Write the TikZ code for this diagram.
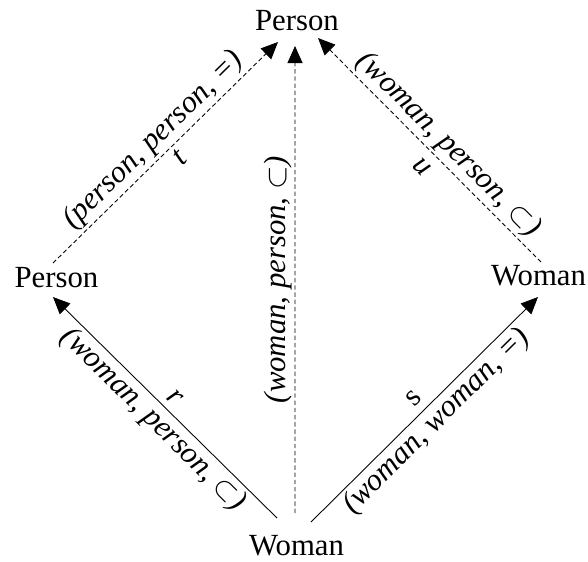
\documentclass[tikz,border=0pt]{standalone}
\usepackage{fontspec}
\setmainfont{Liberation Serif}
\usetikzlibrary{positioning,arrows.meta,calc}

\begin{document}
\begin{tikzpicture}[
    concept/.style={inner sep=0pt, anchor=base, font=\fontsize{17.5}{21}\selectfont},
    arrow/.style={-{Triangle[length=0.34cm,width=0.3cm]}, line width=0.5pt},
    dasharrow/.style={arrow, dash pattern=on 2.5pt off 1.6pt},
    edgetext/.style={sloped, inner sep=1.5pt, font=\fontsize{17.5}{21}\selectfont\itshape}
]
\useasboundingbox (0,0) rectangle (11.76,-11.22);

% Concepts
\node[concept] (ptop) at (5.94,-0.60) {Person};
\node[concept] (pleft) at (1.13,-5.74) {Person};
\node[concept] (wright) at (10.77,-5.70) {Woman};
\node[concept] (wbot) at (5.93,-11.10) {Woman};

% Solid arrows
\draw[arrow] ($(wbot.base)+(-0.39,0.74)$) -- ($(pleft.base)+(-0.07,-0.20)$)
    node[edgetext, midway, below] {(woman, person, $\subset$)}
    node[edgetext, midway, above=2pt] {r};
\draw[arrow] ($(wbot.base)+(0.29,0.66)$) -- ($(wright.base)+(-0.01,-0.24)$)
    node[edgetext, midway, below] {(woman, woman, =)}
    node[edgetext, midway, above=3pt, font=\fontsize{17.5}{21}\selectfont] {s};

% Dashed arrows
\draw[dasharrow] ($(wbot.base)+(-0.03,0.84)$) -- ($(ptop.base)+(-0.04,-0.32)$)
    node[edgetext, midway, above] {(woman, person, $\subset$)};
\draw[dasharrow] ($(pleft.base)+(-0.07,0.48)$) -- ($(ptop.base)+(-0.38,-0.24)$)
    node[edgetext, midway, above] {(person, person, =)}
    node[edgetext, pos=0.52, below=1pt] {t};
\draw[dasharrow] ($(wright.base)+(0.05,0.46)$) -- ($(ptop.base)+(0.42,-0.16)$)
    node[edgetext, pos=0.47, above] {(woman, person, $\subset$)}
    node[edgetext, pos=0.48, below=4pt] {u};

\end{tikzpicture}
\end{document}
